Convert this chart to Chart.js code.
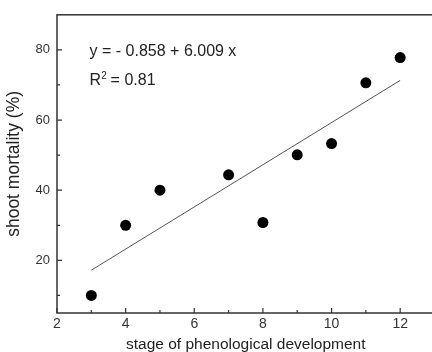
<!DOCTYPE html>
<html>
<head>
<meta charset="utf-8">
<script src="https://cdn.jsdelivr.net/npm/chart.js@4/dist/chart.umd.min.js"></script>
<style>
  html, body { margin: 0; padding: 0; background: #fff; overflow: hidden; }
  #wrap { width: 432px; height: 352px; overflow: hidden; position: relative; }
  #box { width: 440px; height: 352px; }
</style>
</head>
<body>
<div id="wrap"><div id="box"><canvas id="phenoChart"></canvas></div></div>
<script>
// --- data ---
const stages = [3, 4, 5, 7, 8, 9, 10, 11, 12];
const mortality = [10, 30, 40, 44.4, 30.8, 50.1, 53.3, 70.6, 77.8];
const fitX = [3, 12];
const fitY = [17.2, 71.3];
const xTicks = [2, 4, 6, 8, 10, 12];
const xMinor = [3, 5, 7, 9, 11];
const yTicks = [20, 40, 60, 80];
const yMinor = [10, 30, 50, 70];
const eqText = 'y = - 0.858 + 6.009 x';
const r2Text = '0.81';

const FONT = '"Liberation Sans", Arial, sans-serif';
const AXIS = '#333';

// frame, inward ticks and the regression text
const framePlugin = {
    id: 'frame',
    afterDatasetsDraw(chart) {
        const { ctx, chartArea: a, scales: { x, y } } = chart;
        ctx.save();
        ctx.strokeStyle = AXIS;
        ctx.lineWidth = 1.5;
        ctx.strokeRect(a.left, a.top, a.right - a.left, a.bottom - a.top);

        ctx.lineWidth = 1.2;
        ctx.beginPath();
        xTicks.forEach(v => { const p = x.getPixelForValue(v); ctx.moveTo(p, a.bottom); ctx.lineTo(p, a.bottom - 5); });
        xMinor.forEach(v => { const p = x.getPixelForValue(v); ctx.moveTo(p, a.bottom); ctx.lineTo(p, a.bottom - 3); });
        yTicks.forEach(v => { const p = y.getPixelForValue(v); ctx.moveTo(a.left, p); ctx.lineTo(a.left + 5, p); });
        yMinor.forEach(v => { const p = y.getPixelForValue(v); ctx.moveTo(a.left, p); ctx.lineTo(a.left + 3, p); });
        ctx.stroke();

        ctx.fillStyle = '#222';
        ctx.textBaseline = 'middle';
        ctx.textAlign = 'left';
        ctx.font = '16px ' + FONT;
        const tx = x.getPixelForValue(2.95);
        ctx.fillText(eqText, tx, y.getPixelForValue(79.6));
        const ry = y.getPixelForValue(71.2);
        ctx.fillText('R', tx, ry);
        const rw = ctx.measureText('R').width;
        ctx.font = '10px ' + FONT;
        ctx.fillText('2', tx + rw, ry - 5);
        ctx.font = '16px ' + FONT;
        ctx.fillText(' = ' + r2Text, tx + rw + 5, ry);
        ctx.restore();
    }
};

new Chart(document.getElementById('phenoChart'), {
    type: 'scatter',
    data: {
        datasets: [
            {
                label: 'observed',
                data: stages.map((s, i) => ({ x: s, y: mortality[i] })),
                pointRadius: 5.5,
                pointBackgroundColor: '#000',
                pointBorderWidth: 0,
                showLine: false
            },
            {
                label: 'fit',
                type: 'line',
                data: fitX.map((s, i) => ({ x: s, y: fitY[i] })),
                borderColor: '#555',
                borderWidth: 1,
                pointRadius: 0,
                fill: false
            }
        ]
    },
    options: {
        responsive: true,
        maintainAspectRatio: false,
        animation: false,
        layout: { padding: { top: 9, right: 5, left: 0, bottom: 0 } },
        plugins: { legend: { display: false }, tooltip: { enabled: false } },
        scales: {
            x: {
                type: 'linear', min: 2, max: 13,
                afterBuildTicks: s => { s.ticks = xTicks.map(v => ({ value: v })); },
                afterFit: s => { s.height = 39; },
                grid: { display: false, drawTicks: false },
                border: { display: false },
                ticks: { color: AXIS, font: { size: 14, family: FONT }, padding: 3, maxRotation: 0 },
                title: { display: true, text: 'stage of phenological development', color: '#222', font: { size: 15.5, family: FONT, lineHeight: 1 }, padding: { top: 0, bottom: 0 } }
            },
            y: {
                type: 'linear', min: 5, max: 90,
                afterBuildTicks: s => { s.ticks = yTicks.map(v => ({ value: v })); },
                afterFit: s => { s.width = 57; },
                grid: { display: false, drawTicks: false },
                border: { display: false },
                ticks: { color: AXIS, font: { size: 13, family: FONT }, padding: 7 },
                title: { display: true, text: 'shoot mortality (%)', color: '#222', font: { size: 17.5, family: FONT, lineHeight: 1 }, padding: { top: 5, bottom: 0 } }
            }
        }
    },
    plugins: [framePlugin]
});
</script>
</body>
</html>
